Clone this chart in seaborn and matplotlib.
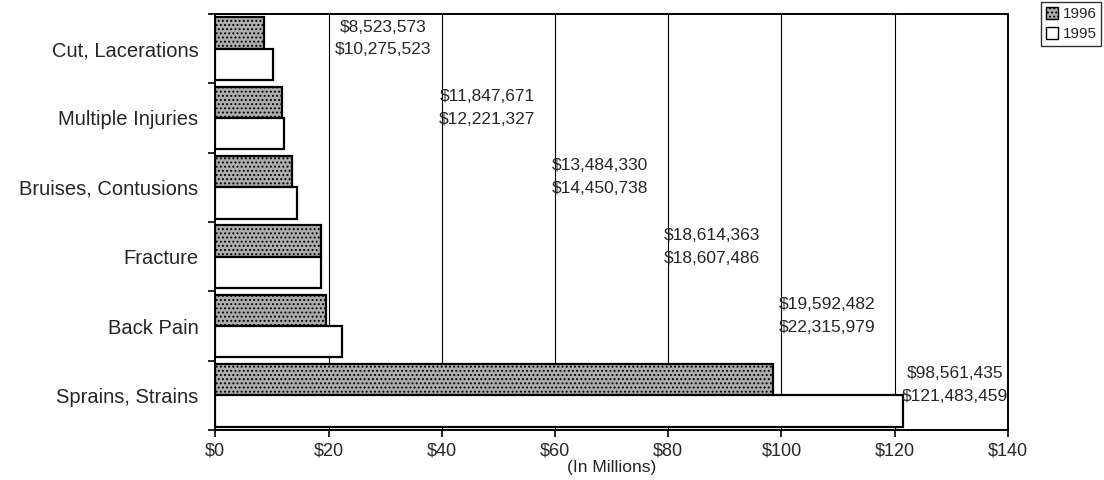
import matplotlib
matplotlib.use("Agg")
import matplotlib.pyplot as plt
import seaborn as sns
import pandas as pd
from matplotlib.patches import Patch

categories = ["Cut, Lacerations", "Multiple Injuries", "Bruises, Contusions",
              "Fracture", "Back Pain", "Sprains, Strains"]
costs_1996 = [8.523573, 11.847671, 13.484330, 18.614363, 19.592482, 98.561435]
costs_1995 = [10.275523, 12.221327, 14.450738, 18.607486, 22.315979, 121.483459]
labels_1996 = ["$8,523,573", "$11,847,671", "$13,484,330", "$18,614,363", "$19,592,482", "$98,561,435"]
labels_1995 = ["$10,275,523", "$12,221,327", "$14,450,738", "$18,607,486", "$22,315,979", "$121,483,459"]
xticks = [0, 20, 40, 60, 80, 100, 120, 140]
xticklabels = ["$0", "$20", "$40", "$60", "$80", "$100", "$120", "$140"]

df = pd.DataFrame({
    "category": categories * 2,
    "cost": costs_1996 + costs_1995,
    "year": ["1996"] * len(categories) + ["1995"] * len(categories),
})

sns.set_style("white")
plt.rcParams["font.family"] = ["Liberation Sans", "DejaVu Sans"]
plt.rcParams["hatch.linewidth"] = 0.9

fig = plt.figure(figsize=(11.04, 4.8), dpi=100)
ax = fig.add_axes([0.195, 0.104, 0.718, 0.867])

dark = "#adadad"
sns.barplot(data=df, y="category", x="cost", hue="year", hue_order=["1996", "1995"],
            order=categories, orient="h", palette={"1996": dark, "1995": "white"},
            width=0.9, ax=ax, legend=False, saturation=1)

n = len(categories)
for i, p in enumerate(ax.patches):
    p.set_edgecolor("black")
    p.set_linewidth(1.6)
    if i < n:
        p.set_hatch("....")

ax.set_xlim(0, 140)
ax.set_ylim(n - 0.5, -0.5)
ax.set_xticks(xticks)
ax.set_xticklabels(xticklabels, fontsize=13)
ax.set_xlabel("(In Millions)", fontsize=12.5, labelpad=0)
ax.set_ylabel("")
ax.set_yticks(range(n))
ax.set_yticklabels(categories, fontsize=14.5)
ax.set_yticks([k - 0.5 for k in range(n + 1)], minor=True)
ax.tick_params(axis="y", which="major", length=0, pad=12)
ax.tick_params(axis="y", which="minor", length=5, width=1.2, color="black", direction="out", left=True)
ax.tick_params(axis="x", which="major", length=5, width=1.2, color="black", direction="out", bottom=True, pad=4)

for gx in xticks[1:-1]:
    ax.axvline(gx, color="black", linewidth=0.8, zorder=0)

for s in ax.spines.values():
    s.set_visible(True)
    s.set_color("black")
    s.set_linewidth(1.4)

label_x = [29.7, 48.0, 68.0, 87.7, 108.0, 130.6]
for i in range(n):
    ax.text(label_x[i], i - 0.31, labels_1996[i], ha="center", va="center", fontsize=12.5)
    ax.text(label_x[i], i + 0.02, labels_1995[i], ha="center", va="center", fontsize=12.5)

handles = [Patch(facecolor=dark, edgecolor="black", hatch="....", label="1996"),
           Patch(facecolor="white", edgecolor="black", label="1995")]
fig.legend(handles=handles, loc="upper right", bbox_to_anchor=(0.999, 0.998), frameon=True,
           fancybox=False, edgecolor="black", fontsize=11, handlelength=0.8, handleheight=0.8,
           handletextpad=0.3, borderpad=0.3, labelspacing=0.4, borderaxespad=0.1)

fig.savefig("out.png", dpi=100)
